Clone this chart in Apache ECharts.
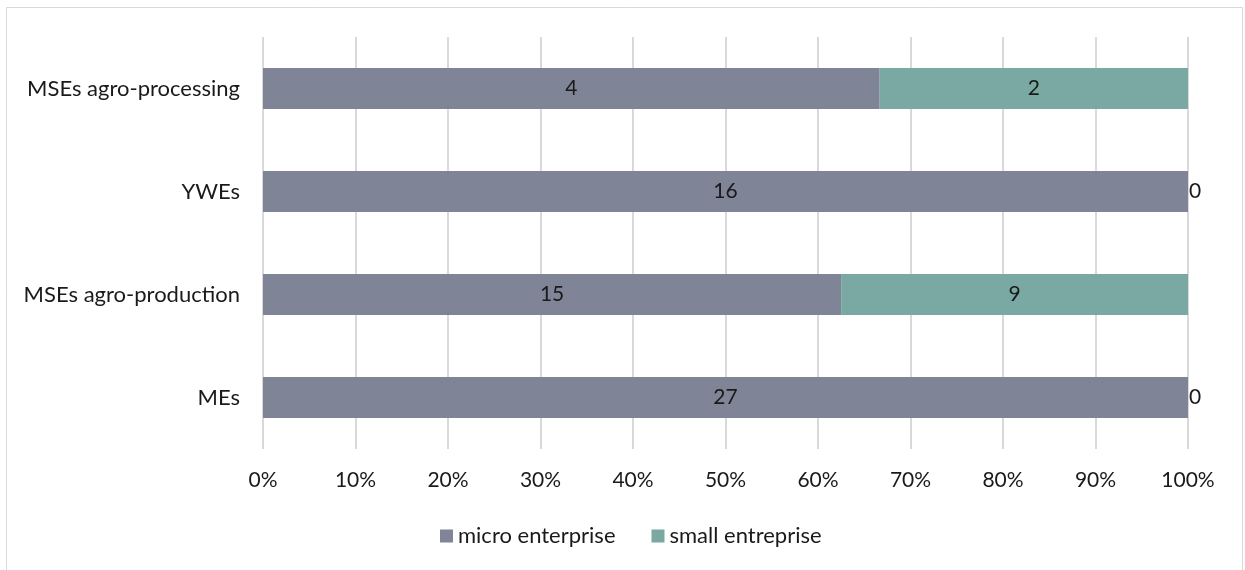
<!DOCTYPE html>
<html><head><meta charset="utf-8">
<script src="https://cdn.jsdelivr.net/npm/echarts@6/dist/echarts.min.js"></script>
<style>html,body{margin:0;padding:0;background:#fff}#c{width:1245px;height:570px}</style>
</head><body><div id="c"></div>
<script>
const categories = ['MEs', 'MSEs agro-production', 'YWEs', 'MSEs agro-processing'];
const microValues = [27, 15, 16, 4];
const smallValues = [0, 9, 0, 2];
const tickLabels = ['0%','10%','20%','30%','40%','50%','60%','70%','80%','90%','100%'];
const seriesNames = ['micro enterprise', 'small entreprise'];

const totals = categories.map((_, i) => microValues[i] + smallValues[i]);
const font = 'Lato, "Open Sans", sans-serif';
function mk(vals) {
  return vals.map((v, i) => {
    const item = { value: v / totals[i] * 100, raw: v };
    if (v === 0) item.label = { position: 'right', distance: 1 };
    return item;
  });
}
const chart = echarts.init(document.getElementById('c'));
chart.setOption({
  animation: false,
  textStyle: { fontFamily: font },
  graphic: [{ type: 'rect', shape: { x: 6.5, y: 7.5, width: 1236, height: 600 }, style: { fill: 'none', stroke: '#d9d9d9', lineWidth: 1 } }],
  grid: { left: 263, right: 57, top: 37, bottom: 121 },
  legend: {
    top: 520, left: 435, itemWidth: 13, itemHeight: 13, itemGap: 36,
    icon: 'rect',
    textStyle: { fontSize: 22, color: '#1a1a1a', fontFamily: font },
    data: seriesNames
  },
  xAxis: {
    type: 'value', min: 0, max: 100, interval: 10,
    axisLine: { show: false }, axisTick: { show: false },
    axisLabel: { formatter: v => tickLabels[Math.round(v / 10)], fontSize: 21, color: '#1a1a1a', margin: 21 },
    splitLine: { lineStyle: { color: '#d9d9d9', width: 2 } }
  },
  yAxis: {
    type: 'category', data: categories,
    axisLine: { show: false }, axisTick: { show: false },
    axisLabel: { fontSize: 22, color: '#1a1a1a', margin: 23 }
  },
  series: [
    { name: seriesNames[0], type: 'bar', stack: 's', barWidth: 41, data: mk(microValues),
      itemStyle: { color: '#7f8497' },
      label: { show: true, position: 'inside', fontSize: 21, color: '#1a1a1a', formatter: p => p.data.raw } },
    { name: seriesNames[1], type: 'bar', stack: 's', barWidth: 41, data: mk(smallValues),
      itemStyle: { color: '#79a9a2' },
      label: { show: true, position: 'inside', fontSize: 21, color: '#1a1a1a', formatter: p => p.data.raw } }
  ]
});
</script></body></html>
